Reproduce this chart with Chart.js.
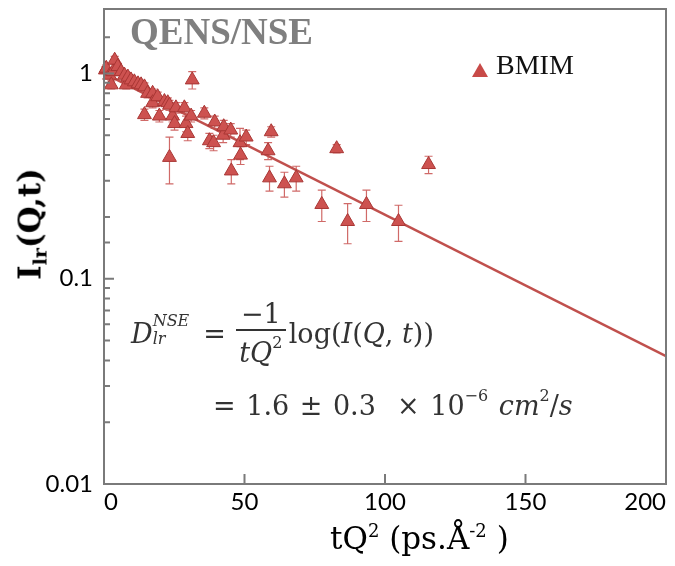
<!DOCTYPE html>
<html>
<head>
<meta charset="utf-8">
<script src="https://cdn.jsdelivr.net/npm/chart.js@4.4.1/dist/chart.umd.min.js"></script>
<style>
  html, body { margin: 0; padding: 0; background: #fff; }
  #wrap { position: relative; width: 675px; height: 566px; }
  #wrap .lbl { position: absolute; white-space: nowrap; pointer-events: none; }
  #title { left: 130px; top: 10px; font: bold 37px "Liberation Serif", serif; color: #7f7f7f; }
  #legend { left: 472px; top: 49px; font: 28px "Liberation Serif", serif; color: #111; }
  #legend .tri { display: inline-block; width: 0; height: 0; border-left: 8px solid transparent;
    border-right: 8px solid transparent; border-bottom: 14px solid #c84a48; margin-right: 8px; vertical-align: -3px; }
  #ytitle { left: 31px; top: 224px; font: bold 31px "DejaVu Serif", serif; transform: translate(-50%, -50%) rotate(-90deg); }
  #ytitle sub { font-size: 19px; vertical-align: -6px; }
  #xtitle { left: 330px; top: 520px; font: 31px "DejaVu Serif", serif; }
  #xtitle sup { font-size: 18px; vertical-align: 12px; }
  .eq { font: 27px "DejaVu Serif", serif; color: #333; line-height: 1; }
  .eq i { font-style: italic; }
  .ss { display: inline-flex; flex-direction: column; font-size: 16px; font-style: italic; line-height: 1; vertical-align: 17px; margin-left: 0; }
  .frac { display: inline-flex; flex-direction: column; align-items: center; line-height: 1; vertical-align: 20px; margin: 0 3px 0 10px; }
  .frac .num { padding: 0 5px 2px; border-bottom: 2px solid #333; }
  .frac .den { padding-top: 4px; }
  .eq sup { font-size: 16px; vertical-align: 14px; line-height: 1; }
</style>
</head>
<body>
<div id="wrap">
  <canvas id="chart" width="675" height="566"></canvas>
  <div class="lbl" id="title">QENS/NSE</div>
  <div class="lbl" id="legend"><span class="tri"></span>BMIM</div>
  <div class="lbl" id="ytitle">I<sub>lr</sub>(Q,t)</div>
  <div class="lbl" id="xtitle">tQ<sup>2</sup> (ps.Å<sup>-2</sup> )</div>
  <div class="lbl eq" id="eq1" style="left:131px; top:300px;"><i>D</i><span class="ss"><span>NSE</span><span style="margin-top:2px">lr</span></span><span style="margin-left:14px">=</span><span class="frac"><span class="num">−1</span><span class="den"><i>tQ</i><sup>2</sup></span></span>log(<i>I</i>(<i>Q</i>, <i>t</i>))</div>
  <div class="lbl eq" id="eq2" style="left:213px; top:388px; word-spacing:2px;">= 1.6 ± 0.3 &nbsp;× 10<sup>−6</sup> <i>cm</i><sup>2</sup>/<i>s</i></div>
</div>
<script>
// ================= DATA =================
const tq2 = [0.5, 0.8, 2.0, 2.6, 3.2, 3.8, 4.9, 6.1, 7.3, 7.9, 8.5, 9.6, 10.8, 12.1, 13.2, 14.4, 14.4,
  15.5, 17.3, 17.3, 19.1, 19.7, 21.5, 22.7, 23.3, 23.3, 24.4, 25.1, 25.6, 28.6, 29.2, 29.8, 31.0, 31.4,
  35.7, 37.5, 39.0, 39.4, 42.4, 42.6, 45.1, 45.3, 48.4, 48.6, 50.6, 58.4, 58.9, 59.5, 64.2, 68.4,
  77.5, 82.8, 86.7, 93.4, 104.8, 115.5];
const intensity = [1.04, 1.06, 0.98, 0.88, 1.02, 1.16, 1.08, 1.02, 0.98, 0.88, 0.96, 0.93, 0.91, 0.89, 0.88, 0.86, 0.63,
  0.80, 0.80, 0.72, 0.77, 0.62, 0.73, 0.72, 0.70, 0.39, 0.62, 0.57, 0.68, 0.68, 0.57, 0.51, 0.62, 0.93,
  0.64, 0.47, 0.46, 0.58, 0.50, 0.55, 0.53, 0.335, 0.46, 0.40, 0.49, 0.42, 0.31, 0.52, 0.29, 0.31,
  0.23, 0.43, 0.19, 0.23, 0.19, 0.36];
const errors = [0.04, 0.04, 0.04, 0.04, 0.04, 0.05, 0.04, 0.04, 0.04, 0.04, 0.04, 0.04, 0.04, 0.04, 0.04, 0.04, 0.04,
  0.04, 0.04, 0.04, 0.04, 0.04, 0.04, 0.04, 0.04, 0.10, 0.04, 0.04, 0.04, 0.04, 0.05, 0.04, 0.04, 0.09,
  0.04, 0.04, 0.04, 0.04, 0.04, 0.04, 0.04, 0.045, 0.08, 0.04, 0.04, 0.04, 0.043, 0.03, 0.04, 0.043,
  0.04, 0.02, 0.042, 0.04, 0.038, 0.035];

// fit line end points
const fitX = [0, 200];
const fitY = [1.0, 0.042];

const yLabels = [0.01, 0.1, 1];

// ================= PLUGINS =================
const errorBars = {
    id: "errorBars",
    beforeDatasetsDraw(chart) {
        const { ctx, scales: { x, y } } = chart;
        ctx.save();
        ctx.strokeStyle = "#d06a68";
        ctx.lineWidth = 1.2;
        tq2.forEach((v, i) => {
            const px = x.getPixelForValue(v);
            const top = y.getPixelForValue(intensity[i] + errors[i]);
            const bot = y.getPixelForValue(intensity[i] - errors[i]);
            ctx.beginPath();
            ctx.moveTo(px, top); ctx.lineTo(px, bot);
            ctx.moveTo(px - 4, top); ctx.lineTo(px + 4, top);
            ctx.moveTo(px - 4, bot); ctx.lineTo(px + 4, bot);
            ctx.stroke();
        });
        ctx.restore();
    }
};

const frame = {
    id: "frame",
    afterDraw(chart) {
        const { ctx, chartArea: a, scales: { x, y } } = chart;
        ctx.save();
        ctx.strokeStyle = "#7a7a7a";
        ctx.lineWidth = 2;
        ctx.strokeRect(a.left, a.top, a.right - a.left, a.bottom - a.top);
        ctx.beginPath();
        x.ticks.forEach(t => {
            if (t.value <= x.min || t.value >= x.max) return;
            const px = x.getPixelForValue(t.value);
            ctx.moveTo(px, a.bottom); ctx.lineTo(px, a.bottom - 10);
        });
        y.ticks.forEach(t => {
            if (t.value <= y.min || t.value > 1.5) return;
            const py = y.getPixelForValue(t.value);
            const major = yLabels.some(v => Math.abs(v - t.value) < v * 1e-6);
            ctx.moveTo(a.left, py); ctx.lineTo(a.left + (major ? 10 : 6), py);
        });
        ctx.stroke();
        ctx.restore();
    }
};

// ================= CHART =================
new Chart(document.getElementById("chart"), {
    type: "scatter",
    data: {
        datasets: [
            {
                label: "BMIM",
                data: tq2.map((v, i) => ({ x: v, y: intensity[i] })),
                pointStyle: "triangle",
                pointRadius: 8,
                backgroundColor: "#cd5250",
                borderColor: "#a93634",
                borderWidth: 1,
                clip: false,
                order: 1
            },
            {
                label: "fit",
                data: fitX.map((v, i) => ({ x: v, y: fitY[i] })),
                showLine: true,
                borderColor: "#c0504d",
                borderWidth: 2.5,
                pointRadius: 0,
                order: 2
            }
        ]
    },
    options: {
        responsive: false,
        animation: false,
        layout: { padding: { top: 5, right: 5, left: 0, bottom: 0 } },
        plugins: { legend: { display: false }, tooltip: { enabled: false } },
        scales: {
            x: {
                type: "linear",
                min: 0,
                max: 200,
                grid: { display: false, drawTicks: false },
                border: { display: false },
                ticks: { stepSize: 50, align: "inner", padding: 4, color: "#000", font: { family: "Lato", size: 24 } },
                afterFit: s => { s.height = 82; s.paddingLeft = 0; s.paddingRight = 0; }
            },
            y: {
                type: "logarithmic",
                min: 0.01,
                max: 2.06,
                grid: { display: false, drawTicks: false },
                border: { display: false },
                ticks: {
                    autoSkip: false,
                    padding: 11,
                    color: "#000",
                    font: { family: "Lato", size: 24 },
                    callback: v => yLabels.some(l => Math.abs(l - v) < l * 1e-6) ? String(v) : ""
                },
                afterFit: s => { s.width = 104; s.paddingTop = 0; s.paddingBottom = 0; }
            }
        }
    },
    plugins: [errorBars, frame]
});
</script>
</body>
</html>
